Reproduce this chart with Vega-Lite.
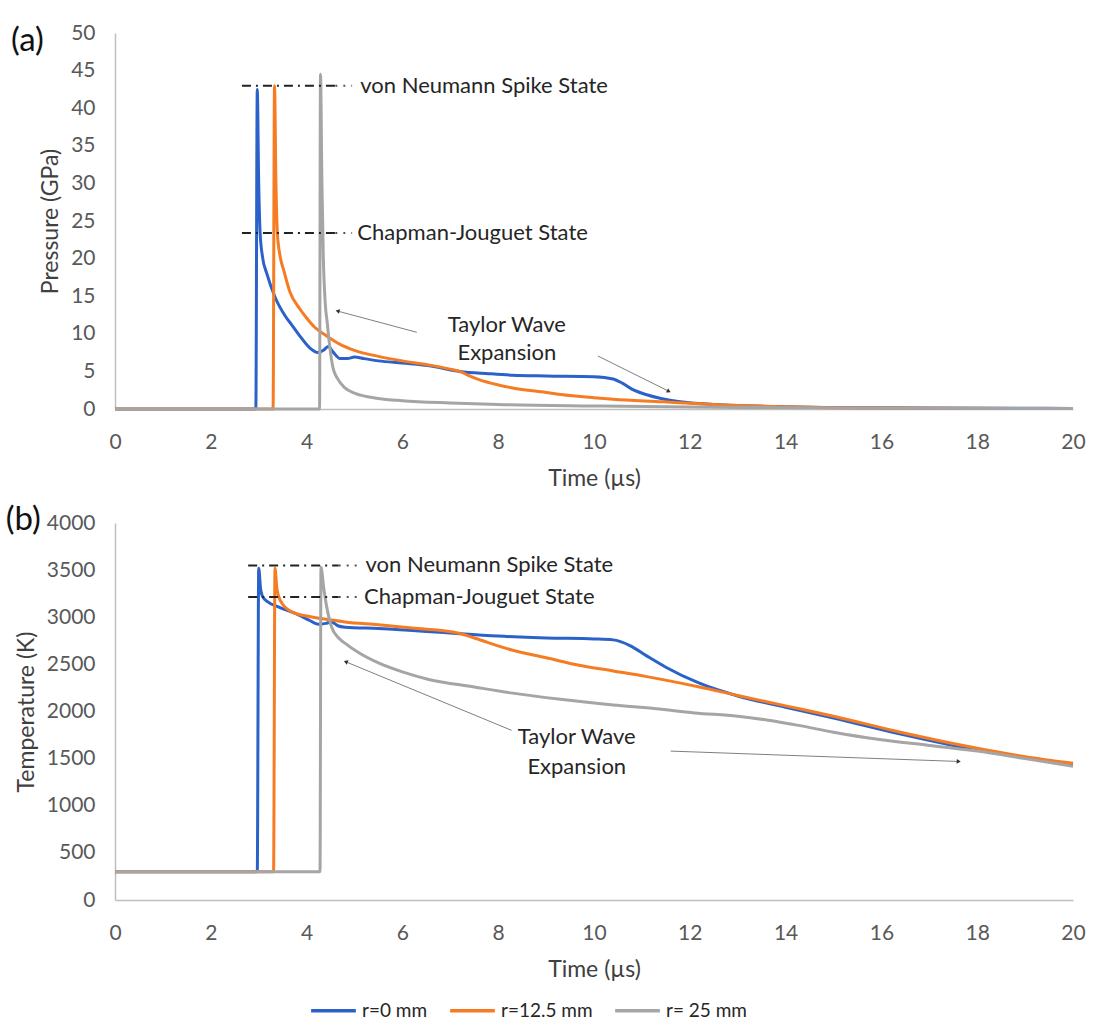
{
  "$schema": "https://vega.github.io/schema/vega-lite/v6.json",
  "padding": {"left": 5, "top": 22, "right": 10, "bottom": 5},
  "datasets": {
    "pressure": [
      {"series": "r=0 mm", "t": 0, "v": 0}, {"series": "r=0 mm", "t": 2.94, "v": 0}, {"series": "r=0 mm", "t": 2.97, "v": 42.5},
      {"series": "r=0 mm", "t": 3.0, "v": 30}, {"series": "r=0 mm", "t": 3.03, "v": 23.4}, {"series": "r=0 mm", "t": 3.08, "v": 20.2},
      {"series": "r=0 mm", "t": 3.17, "v": 18.0}, {"series": "r=0 mm", "t": 3.34, "v": 14.9}, {"series": "r=0 mm", "t": 3.55, "v": 12.4},
      {"series": "r=0 mm", "t": 3.7, "v": 11.1}, {"series": "r=0 mm", "t": 3.86, "v": 9.7}, {"series": "r=0 mm", "t": 4.07, "v": 8.1},
      {"series": "r=0 mm", "t": 4.24, "v": 7.5}, {"series": "r=0 mm", "t": 4.35, "v": 7.8}, {"series": "r=0 mm", "t": 4.45, "v": 8.3},
      {"series": "r=0 mm", "t": 4.55, "v": 7.6}, {"series": "r=0 mm", "t": 4.7, "v": 6.7}, {"series": "r=0 mm", "t": 4.85, "v": 6.7},
      {"series": "r=0 mm", "t": 5.0, "v": 6.9}, {"series": "r=0 mm", "t": 5.2, "v": 6.7}, {"series": "r=0 mm", "t": 5.5, "v": 6.4},
      {"series": "r=0 mm", "t": 6.0, "v": 6.1}, {"series": "r=0 mm", "t": 6.6, "v": 5.7}, {"series": "r=0 mm", "t": 7.2, "v": 5.0},
      {"series": "r=0 mm", "t": 7.8, "v": 4.7}, {"series": "r=0 mm", "t": 8.3, "v": 4.5}, {"series": "r=0 mm", "t": 9.0, "v": 4.4},
      {"series": "r=0 mm", "t": 10.0, "v": 4.3}, {"series": "r=0 mm", "t": 10.4, "v": 4.0}, {"series": "r=0 mm", "t": 10.6, "v": 3.4},
      {"series": "r=0 mm", "t": 10.8, "v": 2.6}, {"series": "r=0 mm", "t": 11.1, "v": 1.9}, {"series": "r=0 mm", "t": 11.4, "v": 1.4},
      {"series": "r=0 mm", "t": 11.8, "v": 0.95}, {"series": "r=0 mm", "t": 12.5, "v": 0.6}, {"series": "r=0 mm", "t": 13, "v": 0.45},
      {"series": "r=0 mm", "t": 14, "v": 0.3}, {"series": "r=0 mm", "t": 15, "v": 0.2}, {"series": "r=0 mm", "t": 17, "v": 0.12},
      {"series": "r=0 mm", "t": 20, "v": 0.08},
      {"series": "r=12.5 mm", "t": 0, "v": 0}, {"series": "r=12.5 mm", "t": 3.3, "v": 0}, {"series": "r=12.5 mm", "t": 3.33, "v": 43},
      {"series": "r=12.5 mm", "t": 3.36, "v": 30}, {"series": "r=12.5 mm", "t": 3.39, "v": 23.4}, {"series": "r=12.5 mm", "t": 3.45, "v": 20.2},
      {"series": "r=12.5 mm", "t": 3.52, "v": 18.5}, {"series": "r=12.5 mm", "t": 3.65, "v": 15.6}, {"series": "r=12.5 mm", "t": 3.86, "v": 13.3},
      {"series": "r=12.5 mm", "t": 4.0, "v": 12.1}, {"series": "r=12.5 mm", "t": 4.18, "v": 10.8}, {"series": "r=12.5 mm", "t": 4.4, "v": 9.8},
      {"series": "r=12.5 mm", "t": 4.7, "v": 8.6}, {"series": "r=12.5 mm", "t": 5.0, "v": 7.8}, {"series": "r=12.5 mm", "t": 5.5, "v": 7.0},
      {"series": "r=12.5 mm", "t": 6.0, "v": 6.4}, {"series": "r=12.5 mm", "t": 6.6, "v": 5.8}, {"series": "r=12.5 mm", "t": 7.0, "v": 5.3},
      {"series": "r=12.5 mm", "t": 7.2, "v": 5.0}, {"series": "r=12.5 mm", "t": 7.4, "v": 4.4}, {"series": "r=12.5 mm", "t": 7.6, "v": 3.9},
      {"series": "r=12.5 mm", "t": 8.0, "v": 3.2}, {"series": "r=12.5 mm", "t": 8.3, "v": 2.8}, {"series": "r=12.5 mm", "t": 9.0, "v": 2.2},
      {"series": "r=12.5 mm", "t": 9.35, "v": 1.9}, {"series": "r=12.5 mm", "t": 10.0, "v": 1.5}, {"series": "r=12.5 mm", "t": 10.4, "v": 1.3},
      {"series": "r=12.5 mm", "t": 11.45, "v": 0.95}, {"series": "r=12.5 mm", "t": 12, "v": 0.75}, {"series": "r=12.5 mm", "t": 13, "v": 0.45},
      {"series": "r=12.5 mm", "t": 14, "v": 0.3}, {"series": "r=12.5 mm", "t": 15, "v": 0.18}, {"series": "r=12.5 mm", "t": 17, "v": 0.1},
      {"series": "r=12.5 mm", "t": 20, "v": 0.05},
      {"series": "r= 25 mm", "t": 0, "v": 0}, {"series": "r= 25 mm", "t": 4.27, "v": 0}, {"series": "r= 25 mm", "t": 4.29, "v": 44.5},
      {"series": "r= 25 mm", "t": 4.32, "v": 30}, {"series": "r= 25 mm", "t": 4.35, "v": 20}, {"series": "r= 25 mm", "t": 4.39, "v": 14},
      {"series": "r= 25 mm", "t": 4.43, "v": 11.5}, {"series": "r= 25 mm", "t": 4.48, "v": 8.5}, {"series": "r= 25 mm", "t": 4.55, "v": 5.5},
      {"series": "r= 25 mm", "t": 4.65, "v": 4.0}, {"series": "r= 25 mm", "t": 4.8, "v": 2.8}, {"series": "r= 25 mm", "t": 5.0, "v": 2.1},
      {"series": "r= 25 mm", "t": 5.5, "v": 1.4}, {"series": "r= 25 mm", "t": 6.0, "v": 1.1}, {"series": "r= 25 mm", "t": 7, "v": 0.8},
      {"series": "r= 25 mm", "t": 8, "v": 0.6}, {"series": "r= 25 mm", "t": 10, "v": 0.4}, {"series": "r= 25 mm", "t": 12, "v": 0.25},
      {"series": "r= 25 mm", "t": 15, "v": 0.12}, {"series": "r= 25 mm", "t": 20, "v": 0.05}
    ],
    "temperature": [
      {"series": "r=0 mm", "t": 0, "v": 300}, {"series": "r=0 mm", "t": 2.97, "v": 300}, {"series": "r=0 mm", "t": 3.0, "v": 3520},
      {"series": "r=0 mm", "t": 3.04, "v": 3300}, {"series": "r=0 mm", "t": 3.08, "v": 3220}, {"series": "r=0 mm", "t": 3.2, "v": 3160},
      {"series": "r=0 mm", "t": 3.41, "v": 3110}, {"series": "r=0 mm", "t": 3.83, "v": 3025}, {"series": "r=0 mm", "t": 4.05, "v": 2970},
      {"series": "r=0 mm", "t": 4.25, "v": 2925}, {"series": "r=0 mm", "t": 4.4, "v": 2935}, {"series": "r=0 mm", "t": 4.52, "v": 2950},
      {"series": "r=0 mm", "t": 4.65, "v": 2910}, {"series": "r=0 mm", "t": 4.8, "v": 2895}, {"series": "r=0 mm", "t": 5.5, "v": 2880},
      {"series": "r=0 mm", "t": 6.5, "v": 2850}, {"series": "r=0 mm", "t": 7.2, "v": 2825}, {"series": "r=0 mm", "t": 8.0, "v": 2800},
      {"series": "r=0 mm", "t": 9.0, "v": 2780}, {"series": "r=0 mm", "t": 10.0, "v": 2770}, {"series": "r=0 mm", "t": 10.4, "v": 2760},
      {"series": "r=0 mm", "t": 10.75, "v": 2700}, {"series": "r=0 mm", "t": 11.1, "v": 2590}, {"series": "r=0 mm", "t": 11.5, "v": 2470},
      {"series": "r=0 mm", "t": 12.2, "v": 2300}, {"series": "r=0 mm", "t": 13.0, "v": 2165}, {"series": "r=0 mm", "t": 14.0, "v": 2045},
      {"series": "r=0 mm", "t": 15.0, "v": 1930}, {"series": "r=0 mm", "t": 16.4, "v": 1760}, {"series": "r=0 mm", "t": 18.0, "v": 1590},
      {"series": "r=0 mm", "t": 19.0, "v": 1510}, {"series": "r=0 mm", "t": 20.0, "v": 1440},
      {"series": "r=12.5 mm", "t": 0, "v": 300}, {"series": "r=12.5 mm", "t": 3.31, "v": 300}, {"series": "r=12.5 mm", "t": 3.34, "v": 3520},
      {"series": "r=12.5 mm", "t": 3.38, "v": 3300}, {"series": "r=12.5 mm", "t": 3.45, "v": 3180}, {"series": "r=12.5 mm", "t": 3.68, "v": 3060},
      {"series": "r=12.5 mm", "t": 4.04, "v": 3010}, {"series": "r=12.5 mm", "t": 4.52, "v": 2970}, {"series": "r=12.5 mm", "t": 4.8, "v": 2950},
      {"series": "r=12.5 mm", "t": 5.5, "v": 2920}, {"series": "r=12.5 mm", "t": 6.2, "v": 2885}, {"series": "r=12.5 mm", "t": 7.18, "v": 2830},
      {"series": "r=12.5 mm", "t": 7.5, "v": 2780}, {"series": "r=12.5 mm", "t": 8.3, "v": 2650}, {"series": "r=12.5 mm", "t": 9.0, "v": 2570},
      {"series": "r=12.5 mm", "t": 9.69, "v": 2490}, {"series": "r=12.5 mm", "t": 10.4, "v": 2430}, {"series": "r=12.5 mm", "t": 11.1, "v": 2370},
      {"series": "r=12.5 mm", "t": 12.2, "v": 2260}, {"series": "r=12.5 mm", "t": 13.0, "v": 2170}, {"series": "r=12.5 mm", "t": 14.0, "v": 2060},
      {"series": "r=12.5 mm", "t": 15.0, "v": 1950}, {"series": "r=12.5 mm", "t": 16.4, "v": 1780}, {"series": "r=12.5 mm", "t": 18.0, "v": 1610},
      {"series": "r=12.5 mm", "t": 19.0, "v": 1520}, {"series": "r=12.5 mm", "t": 20.0, "v": 1450},
      {"series": "r= 25 mm", "t": 0, "v": 300}, {"series": "r= 25 mm", "t": 4.28, "v": 300}, {"series": "r= 25 mm", "t": 4.3, "v": 3530},
      {"series": "r= 25 mm", "t": 4.36, "v": 3300}, {"series": "r= 25 mm", "t": 4.42, "v": 3110}, {"series": "r= 25 mm", "t": 4.52, "v": 2900},
      {"series": "r= 25 mm", "t": 4.65, "v": 2790}, {"series": "r= 25 mm", "t": 4.8, "v": 2725}, {"series": "r= 25 mm", "t": 5.1, "v": 2620},
      {"series": "r= 25 mm", "t": 5.5, "v": 2515}, {"series": "r= 25 mm", "t": 6.0, "v": 2420}, {"series": "r= 25 mm", "t": 6.55, "v": 2340},
      {"series": "r= 25 mm", "t": 7.5, "v": 2260}, {"series": "r= 25 mm", "t": 8.3, "v": 2195}, {"series": "r= 25 mm", "t": 9.3, "v": 2130},
      {"series": "r= 25 mm", "t": 10.4, "v": 2070}, {"series": "r= 25 mm", "t": 11.3, "v": 2030}, {"series": "r= 25 mm", "t": 12.1, "v": 1985},
      {"series": "r= 25 mm", "t": 13.0, "v": 1950}, {"series": "r= 25 mm", "t": 13.6, "v": 1910}, {"series": "r= 25 mm", "t": 14.3, "v": 1850},
      {"series": "r= 25 mm", "t": 15.0, "v": 1780}, {"series": "r= 25 mm", "t": 16.0, "v": 1700}, {"series": "r= 25 mm", "t": 17.0, "v": 1640},
      {"series": "r= 25 mm", "t": 18.0, "v": 1580}, {"series": "r= 25 mm", "t": 19.0, "v": 1500}, {"series": "r= 25 mm", "t": 20.0, "v": 1420}
    ],
    "statesA": [
      {"label": "von Neumann Spike State", "xa": 2.65, "xb": 4.6, "xc": 4.95, "xt": 5.12, "v": 43},
      {"label": "Chapman-Jouguet State", "xa": 2.65, "xb": 4.6, "xc": 4.95, "xt": 5.06, "v": 23.4}
    ],
    "statesB": [
      {"label": "von Neumann Spike State", "xa": 2.78, "xb": 4.67, "xc": 5.08, "xt": 5.23, "v": 3550},
      {"label": "Chapman-Jouguet State", "xa": 2.78, "xb": 4.67, "xc": 5.08, "xt": 5.2, "v": 3215}
    ],
    "textA": [
      {"label": "(a)", "t": -2.17, "v": 48.9, "kind": "panel"},
      {"label": "Taylor Wave", "t": 8.18, "v": 11.2, "kind": "note"},
      {"label": "Expansion", "t": 8.18, "v": 7.45, "kind": "note"}
    ],
    "textB": [
      {"label": "(b)", "t": -2.28, "v": 4032, "kind": "panel"},
      {"label": "Taylor Wave", "t": 9.64, "v": 1729, "kind": "note"},
      {"label": "Expansion", "t": 9.64, "v": 1411, "kind": "note"}
    ],
    "arrowsA": [
      {"id": "left", "t": 6.3, "v": 10.2, "t2": 4.66, "v2": 13.0},
      {"id": "right", "t": 10.08, "v": 7.05, "t2": 11.55, "v2": 2.4}
    ],
    "arrowsB": [
      {"id": "left", "t": 8.28, "v": 1800, "t2": 4.83, "v2": 2525},
      {"id": "right", "t": 11.6, "v": 1580, "t2": 17.6, "v2": 1470}
    ]
  },
  "vconcat": [
    {
      "width": 958,
      "height": 376,
      "layer": [
        {
          "data": {"name": "pressure"},
          "mark": {"type": "line", "strokeWidth": 3, "interpolate": "monotone"},
          "encoding": {
            "x": {"field": "t", "type": "quantitative", "scale": {"domain": [0, 20], "nice": false}, "axis": {"title": "Time (µs)", "values": [0, 2, 4, 6, 8, 10, 12, 14, 16, 18, 20], "tickCount": 24, "labelOverlap": false}},
            "y": {"field": "v", "type": "quantitative", "scale": {"domain": [0, 50], "nice": false}, "axis": {"title": "Pressure (GPa)", "values": [0, 5, 10, 15, 20, 25, 30, 35, 40, 45, 50], "tickCount": 12, "labelOverlap": false}},
            "color": {"field": "series", "type": "nominal", "scale": {"domain": ["r=0 mm", "r=12.5 mm", "r= 25 mm"], "range": ["#2a62c9", "#f57c22", "#a5a5a5"]}, "legend": {"title": null}}
          }
        },
        {
          "data": {"name": "statesA"},
          "mark": {"type": "rule", "color": "#222222", "strokeWidth": 2, "strokeDash": [9, 5, 2, 5]},
          "encoding": {"x": {"field": "xa", "type": "quantitative"}, "x2": {"field": "xb"}, "y": {"field": "v", "type": "quantitative"}}
        },
        {
          "data": {"name": "statesA"},
          "mark": {"type": "rule", "color": "#555555", "strokeWidth": 2, "strokeDash": [2, 6]},
          "encoding": {"x": {"field": "xb", "type": "quantitative"}, "x2": {"field": "xc"}, "y": {"field": "v", "type": "quantitative"}}
        },
        {
          "data": {"name": "statesA"},
          "mark": {"type": "text", "align": "left", "baseline": "middle", "font": "Lato", "fontSize": 22, "color": "#262626"},
          "encoding": {"x": {"field": "xt", "type": "quantitative"}, "y": {"field": "v", "type": "quantitative"}, "text": {"field": "label"}}
        },
        {
          "data": {"name": "textA"},
          "transform": [{"filter": "datum.kind == 'note'"}],
          "mark": {"type": "text", "align": "center", "baseline": "middle", "font": "Lato", "fontSize": 22, "color": "#262626"},
          "encoding": {"x": {"field": "t", "type": "quantitative"}, "y": {"field": "v", "type": "quantitative"}, "text": {"field": "label"}}
        },
        {
          "data": {"name": "textA"},
          "transform": [{"filter": "datum.kind == 'panel'"}],
          "mark": {"type": "text", "align": "left", "baseline": "middle", "font": "Lato", "fontSize": 33, "color": "#111111"},
          "encoding": {"x": {"field": "t", "type": "quantitative"}, "y": {"field": "v", "type": "quantitative"}, "text": {"field": "label"}}
        },
        {
          "data": {"name": "arrowsA"},
          "mark": {"type": "rule", "color": "#7f7f7f", "strokeWidth": 1},
          "encoding": {"x": {"field": "t", "type": "quantitative"}, "y": {"field": "v", "type": "quantitative"}, "x2": {"field": "t2"}, "y2": {"field": "v2"}}
        },
        {
          "data": {"name": "arrowsA"},
          "transform": [{"filter": "datum.id == 'left'"}],
          "mark": {"type": "point", "shape": "triangle", "filled": true, "color": "#333333", "size": 22, "angle": 285, "opacity": 1},
          "encoding": {"x": {"field": "t2", "type": "quantitative"}, "y": {"field": "v2", "type": "quantitative"}}
        },
        {
          "data": {"name": "arrowsA"},
          "transform": [{"filter": "datum.id == 'right'"}],
          "mark": {"type": "point", "shape": "triangle", "filled": true, "color": "#333333", "size": 22, "angle": 117, "opacity": 1},
          "encoding": {"x": {"field": "t2", "type": "quantitative"}, "y": {"field": "v2", "type": "quantitative"}}
        }
      ]
    },
    {
      "width": 958,
      "height": 377,
      "layer": [
        {
          "data": {"name": "temperature"},
          "mark": {"type": "line", "strokeWidth": 3, "interpolate": "monotone"},
          "encoding": {
            "x": {"field": "t", "type": "quantitative", "scale": {"domain": [0, 20], "nice": false}, "axis": {"title": "Time (µs)", "values": [0, 2, 4, 6, 8, 10, 12, 14, 16, 18, 20], "tickCount": 24, "labelOverlap": false}},
            "y": {"field": "v", "type": "quantitative", "scale": {"domain": [0, 4000], "nice": false}, "axis": {"title": "Temperature (K)", "values": [0, 500, 1000, 1500, 2000, 2500, 3000, 3500, 4000], "tickCount": 12, "format": "d", "labelOverlap": false}},
            "color": {"field": "series", "type": "nominal", "scale": {"domain": ["r=0 mm", "r=12.5 mm", "r= 25 mm"], "range": ["#2a62c9", "#f57c22", "#a5a5a5"]}, "legend": {"title": null}}
          }
        },
        {
          "data": {"name": "statesB"},
          "mark": {"type": "rule", "color": "#222222", "strokeWidth": 2, "strokeDash": [9, 5, 2, 5]},
          "encoding": {"x": {"field": "xa", "type": "quantitative"}, "x2": {"field": "xb"}, "y": {"field": "v", "type": "quantitative"}}
        },
        {
          "data": {"name": "statesB"},
          "mark": {"type": "rule", "color": "#555555", "strokeWidth": 2, "strokeDash": [2, 6]},
          "encoding": {"x": {"field": "xb", "type": "quantitative"}, "x2": {"field": "xc"}, "y": {"field": "v", "type": "quantitative"}}
        },
        {
          "data": {"name": "statesB"},
          "mark": {"type": "text", "align": "left", "baseline": "middle", "font": "Lato", "fontSize": 22, "color": "#262626"},
          "encoding": {"x": {"field": "xt", "type": "quantitative"}, "y": {"field": "v", "type": "quantitative"}, "text": {"field": "label"}}
        },
        {
          "data": {"name": "textB"},
          "transform": [{"filter": "datum.kind == 'note'"}],
          "mark": {"type": "text", "align": "center", "baseline": "middle", "font": "Lato", "fontSize": 22, "color": "#262626"},
          "encoding": {"x": {"field": "t", "type": "quantitative"}, "y": {"field": "v", "type": "quantitative"}, "text": {"field": "label"}}
        },
        {
          "data": {"name": "textB"},
          "transform": [{"filter": "datum.kind == 'panel'"}],
          "mark": {"type": "text", "align": "left", "baseline": "middle", "font": "Lato", "fontSize": 33, "color": "#111111"},
          "encoding": {"x": {"field": "t", "type": "quantitative"}, "y": {"field": "v", "type": "quantitative"}, "text": {"field": "label"}}
        },
        {
          "data": {"name": "arrowsB"},
          "mark": {"type": "rule", "color": "#7f7f7f", "strokeWidth": 1},
          "encoding": {"x": {"field": "t", "type": "quantitative"}, "y": {"field": "v", "type": "quantitative"}, "x2": {"field": "t2"}, "y2": {"field": "v2"}}
        },
        {
          "data": {"name": "arrowsB"},
          "transform": [{"filter": "datum.id == 'left'"}],
          "mark": {"type": "point", "shape": "triangle", "filled": true, "color": "#333333", "size": 22, "angle": 292, "opacity": 1},
          "encoding": {"x": {"field": "t2", "type": "quantitative"}, "y": {"field": "v2", "type": "quantitative"}}
        },
        {
          "data": {"name": "arrowsB"},
          "transform": [{"filter": "datum.id == 'right'"}],
          "mark": {"type": "point", "shape": "triangle", "filled": true, "color": "#333333", "size": 22, "angle": 92, "opacity": 1},
          "encoding": {"x": {"field": "t2", "type": "quantitative"}, "y": {"field": "v2", "type": "quantitative"}}
        }
      ]
    }
  ],
  "spacing": 13,
  "config": {
    "view": {"stroke": null},
    "font": "Lato",
    "axis": {"domainColor": "#bfbfbf", "domainWidth": 1.5, "ticks": false, "tickSize": 0, "grid": false, "labelFont": "Lato", "labelFontSize": 21, "labelColor": "#595959", "labelOverlap": false, "labelFlush": false, "titleFont": "Lato", "titleFontSize": 23, "titleFontWeight": "normal", "titleColor": "#404040"},
    "axisX": {"labelPadding": 22, "titlePadding": 15},
    "axisY": {"labelPadding": 20, "titlePadding": 8},
    "legend": {"orient": "none", "legendX": 194, "legendY": 953, "direction": "horizontal", "symbolType": "stroke", "symbolSize": 2000, "symbolStrokeWidth": 3.5, "labelFont": "Lato", "labelFontSize": 19, "labelColor": "#262626", "labelOffset": 4, "columnPadding": 15}
  }
}
